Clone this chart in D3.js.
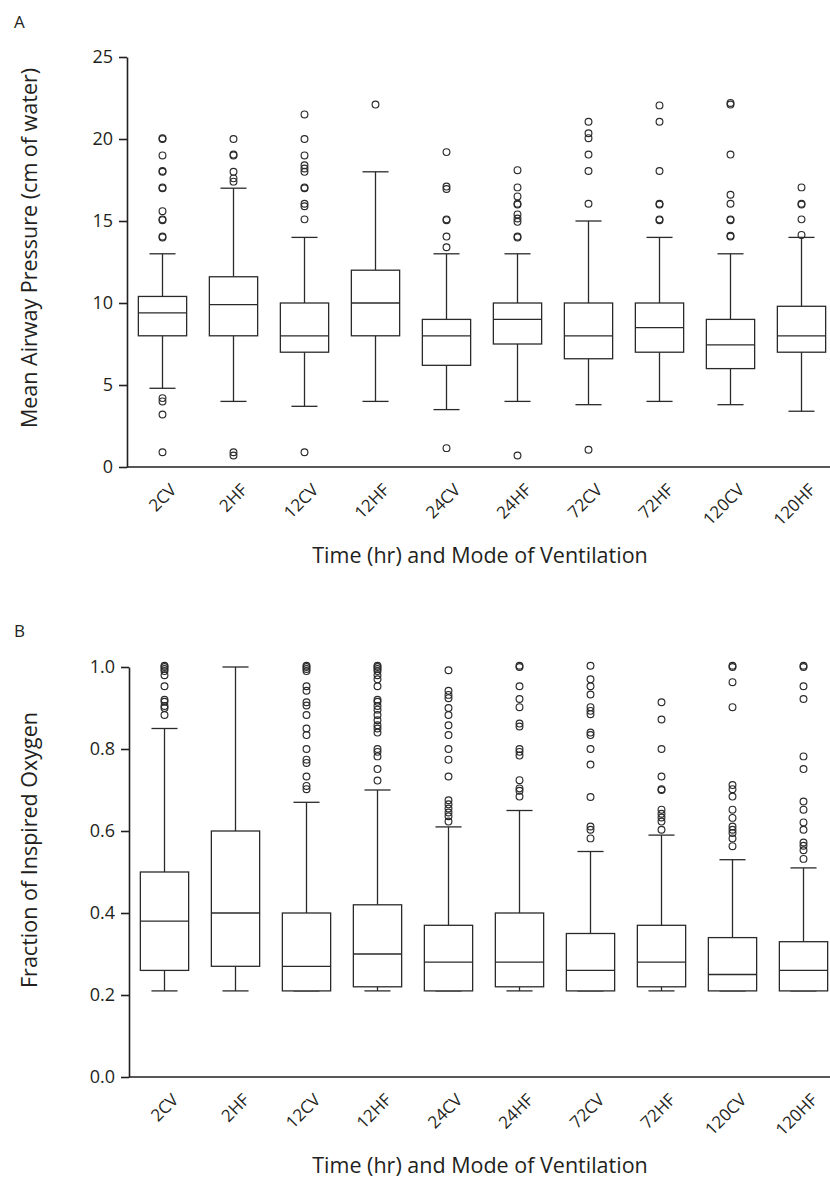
<!DOCTYPE html>
<html>
<head>
<meta charset="utf-8">
<script src="https://cdn.jsdelivr.net/npm/d3@7.9.0/dist/d3.min.js"></script>
<style>
  body { margin: 0; background: #fff; }
  svg { display: block; font-family: 'Open Sans', sans-serif; }
  .axis path, .axis line { stroke: #231f20; stroke-width: 1.6; }
  .axis text { fill: #231f20; font-family: 'Open Sans', sans-serif; }
</style>
</head>
<body>
<svg id="chart" width="830" height="1180"></svg>
<script>
const categories = ['2CV', '2HF', '12CV', '12HF', '24CV', '24HF', '72CV', '72HF', '120CV', '120HF'];

// Panel A: mean airway pressure (cm of water)
const pressureTicks = [0, 5, 10, 15, 20, 25];
const pressureLow = [4.8, 4.0, 3.7, 4.0, 3.5, 4.0, 3.8, 4.0, 3.8, 3.4];
const pressureQ1 = [8.0, 8.0, 7.0, 8.0, 6.2, 7.5, 6.6, 7.0, 6.0, 7.0];
const pressureMedian = [9.4, 9.9, 8.0, 10.0, 8.0, 9.0, 8.0, 8.5, 7.45, 8.0];
const pressureQ3 = [10.4, 11.6, 10.0, 12.0, 9.0, 10.0, 10.0, 10.0, 9.0, 9.8];
const pressureHigh = [13.0, 17.0, 14.0, 18.0, 13.0, 13.0, 15.0, 14.0, 13.0, 14.0];
const pressureOutliers = [
  [20, 20.05, 19, 18, 18.05, 17, 17.05, 15.6, 15.1, 15.05, 14, 14.05, 4.2, 4.0, 3.2, 0.9],
  [20, 19, 19.05, 18, 17.6, 17.4, 0.9, 0.7],
  [21.5, 20, 19, 18.4, 18.2, 18, 17, 17.05, 16.05, 15.9, 15.1, 0.9],
  [22.1],
  [19.2, 17.1, 16.95, 15.1, 15.05, 14.05, 13.4, 1.15],
  [18.1, 17.05, 16.5, 16.05, 16.0, 15.4, 15.15, 14.95, 14.05, 14.0, 0.7],
  [21.05, 20.35, 20.05, 19.05, 18.05, 16.05, 1.05],
  [22.05, 21.05, 18.05, 16.05, 16.0, 15.1, 15.05],
  [22.2, 22.1, 19.05, 16.6, 16.05, 15.1, 15.05, 14.1, 14.05],
  [17.05, 16.05, 16.0, 15.1, 14.15]
];

// Panel B: fraction of inspired oxygen
const oxygenTicks = [0, 0.2, 0.4, 0.6, 0.8, 1.0];
const oxygenLow = [0.21, 0.21, 0.21, 0.21, 0.21, 0.21, 0.21, 0.21, 0.21, 0.21];
const oxygenQ1 = [0.26, 0.27, 0.21, 0.22, 0.21, 0.22, 0.21, 0.22, 0.21, 0.21];
const oxygenMedian = [0.38, 0.40, 0.27, 0.30, 0.28, 0.28, 0.26, 0.28, 0.25, 0.26];
const oxygenQ3 = [0.50, 0.60, 0.40, 0.42, 0.37, 0.40, 0.35, 0.37, 0.34, 0.33];
const oxygenHigh = [0.85, 1.00, 0.67, 0.70, 0.61, 0.65, 0.55, 0.59, 0.53, 0.51];
const oxygenOutliers = [
  [1.0, 1.003, 0.995, 0.99, 0.98, 0.953, 0.92, 0.915, 0.905, 0.9, 0.883],
  [],
  [1.0, 1.003, 0.995, 0.99, 0.953, 0.942, 0.914, 0.906, 0.883, 0.85, 0.834, 0.8, 0.774, 0.766, 0.733, 0.71, 0.702],
  [1.0, 1.003, 0.995, 0.99, 0.98, 0.97, 0.953, 0.92, 0.915, 0.905, 0.896, 0.883, 0.87, 0.858, 0.85, 0.84, 0.8, 0.793, 0.782, 0.751, 0.723],
  [0.992, 0.942, 0.932, 0.924, 0.9, 0.883, 0.858, 0.834, 0.8, 0.774, 0.733, 0.675, 0.665, 0.655, 0.645, 0.636, 0.623],
  [1.0, 1.003, 0.953, 0.922, 0.902, 0.862, 0.855, 0.8, 0.793, 0.784, 0.724, 0.704, 0.698, 0.684],
  [1.003, 0.97, 0.953, 0.933, 0.902, 0.893, 0.885, 0.84, 0.834, 0.8, 0.762, 0.683, 0.611, 0.603, 0.582],
  [0.914, 0.872, 0.8, 0.733, 0.702, 0.7, 0.652, 0.642, 0.633, 0.623, 0.603],
  [1.0, 1.003, 0.963, 0.902, 0.712, 0.702, 0.684, 0.652, 0.632, 0.611, 0.603, 0.595, 0.582, 0.563],
  [1.0, 1.003, 0.953, 0.922, 0.782, 0.751, 0.672, 0.652, 0.621, 0.603, 0.572, 0.564, 0.553, 0.532]
];

const svg = d3.select('#chart');
const width = 830;

function drawPanel(opts) {
  const { letter, letterY, left, top, bottom, domain, ticks, fmt,
          low, q1, median, q3, high, outliers, yTitle, yTitleY } = opts;

  const g = svg.append('g');

  const x = d3.scaleBand()
    .domain(categories)
    .range([left, left + 710])
    .paddingInner(0.32)
    .paddingOuter(0.16);

  const y = d3.scaleLinear().domain(domain).range([bottom, top]);

  const bw = x.bandwidth();
  const capW = bw * 0.54;

  // boxes
  categories.forEach((c, i) => {
    const cx = x(c) + bw / 2;
    const box = g.append('g')
      .attr('stroke', '#2a2a2a')
      .attr('stroke-width', 1.3)
      .attr('fill', 'none');

    // whiskers
    box.append('line').attr('x1', cx).attr('x2', cx).attr('y1', y(high[i])).attr('y2', y(q3[i]));
    box.append('line').attr('x1', cx).attr('x2', cx).attr('y1', y(q1[i])).attr('y2', y(low[i]));
    box.append('line').attr('x1', cx - capW / 2).attr('x2', cx + capW / 2).attr('y1', y(high[i])).attr('y2', y(high[i]));
    box.append('line').attr('x1', cx - capW / 2).attr('x2', cx + capW / 2).attr('y1', y(low[i])).attr('y2', y(low[i]));

    box.append('rect')
      .attr('x', x(c))
      .attr('y', y(q3[i]))
      .attr('width', bw)
      .attr('height', y(q1[i]) - y(q3[i]))
      .attr('fill', '#fff');

    box.append('line').attr('x1', x(c)).attr('x2', x(c) + bw).attr('y1', y(median[i])).attr('y2', y(median[i]));

    box.selectAll('circle')
      .data(outliers[i])
      .join('circle')
      .attr('cx', cx)
      .attr('cy', (d) => y(d))
      .attr('r', 3.4)
      .attr('stroke-width', 1.15);
  });

  // y axis
  g.append('g')
    .attr('class', 'axis')
    .attr('transform', `translate(${left},0)`)
    .call(d3.axisLeft(y).tickValues(ticks).tickFormat(fmt).tickSize(8).tickPadding(6).tickSizeOuter(0))
    .call((s) => s.attr('font-family', null).selectAll('text').attr('font-size', 18));

  // x axis
  const xAxis = g.append('g')
    .attr('class', 'axis')
    .attr('transform', `translate(0,${bottom})`)
    .call(d3.axisBottom(x).tickSize(0).tickSizeOuter(0));
  xAxis.attr('font-family', null);
  xAxis.select('.domain').attr('d', `M${left},0H${width}`);
  xAxis.selectAll('text')
    .attr('x', 0).attr('y', 0).attr('dy', 0)
    .attr('text-anchor', 'end')
    .attr('font-size', 17)
    .attr('transform', 'translate(15,24) rotate(-45)');

  // titles
  g.append('text')
    .attr('transform', `translate(37,${yTitleY}) rotate(-90)`)
    .attr('text-anchor', 'middle')
    .attr('font-size', 21.5)
    .attr('fill', '#231f20')
    .text(yTitle);

  g.append('text')
    .attr('x', 480)
    .attr('y', bottom + 96)
    .attr('text-anchor', 'middle')
    .attr('font-size', 21.5)
    .attr('fill', '#231f20')
    .text('Time (hr) and Mode of Ventilation');

  g.append('text')
    .attr('x', 14)
    .attr('y', letterY)
    .attr('font-size', 17)
    .attr('fill', '#231f20')
    .text(letter);
}

drawPanel({
  letter: 'A', letterY: 28,
  left: 127, top: 57, bottom: 467,
  domain: [0, 25], ticks: pressureTicks, fmt: d3.format('d'),
  low: pressureLow, q1: pressureQ1, median: pressureMedian, q3: pressureQ3, high: pressureHigh,
  outliers: pressureOutliers,
  yTitle: 'Mean Airway Pressure (cm of water)', yTitleY: 248
});

drawPanel({
  letter: 'B', letterY: 637,
  left: 129, top: 667, bottom: 1077,
  domain: [0, 1], ticks: oxygenTicks, fmt: d3.format('.1f'),
  low: oxygenLow, q1: oxygenQ1, median: oxygenMedian, q3: oxygenQ3, high: oxygenHigh,
  outliers: oxygenOutliers,
  yTitle: 'Fraction of Inspired Oxygen', yTitleY: 850
});
</script>
</body>
</html>
